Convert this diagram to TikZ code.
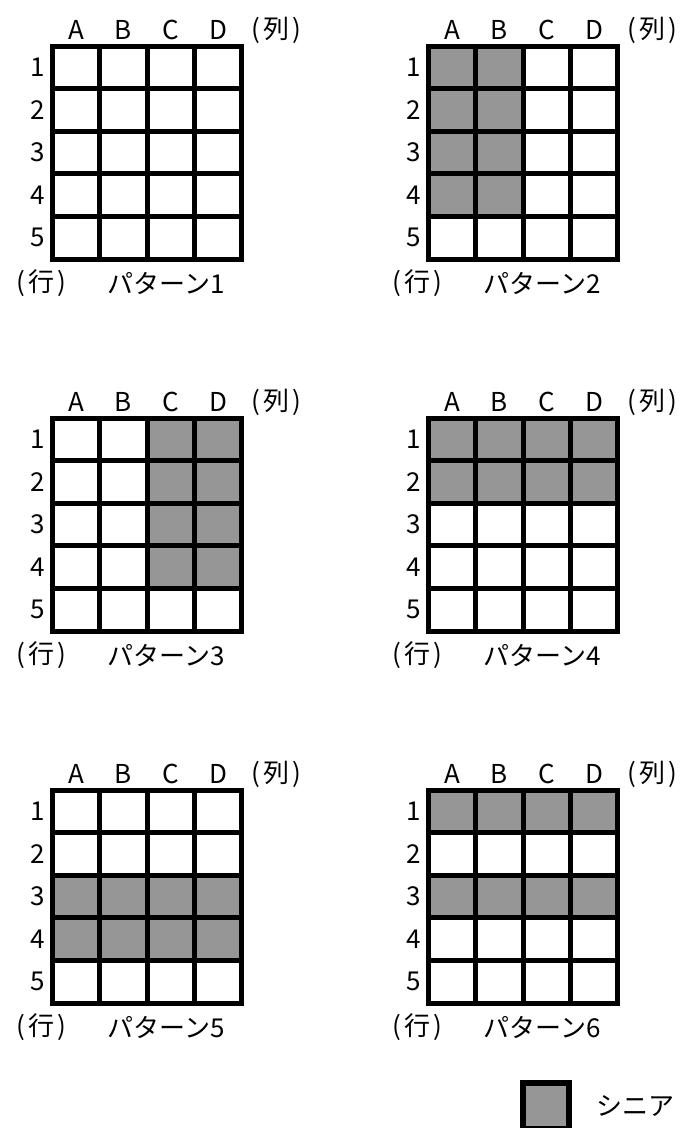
\documentclass[tikz,border=0pt]{standalone}
\usepackage{fontspec}
\setmainfont{Noto Sans CJK JP}
\usetikzlibrary{positioning}

\definecolor{senior_gray}{RGB}{150,150,150}

\begin{document}
\begin{tikzpicture}[
        x=1pt, y=-1pt,
        grid_line/.style={
            line width=5pt
        },
        senior_fill/.style={
            fill=senior_gray
        },
        label_text/.style={
            font=\fontsize{26}{26}\selectfont,
            inner sep=0pt
        },
        legend_box/.style={
            draw,
            fill=senior_gray,
            line width=6pt
        }
    ]
        \useasboundingbox (0,0) rectangle (683,1128);
        % gray cells (cell width 47.3, height 42.6)
        \foreach \c in {0,1} \foreach \r in {0,...,3}
            \fill[senior_fill] (428.5+\c*47.3, 46+\r*42.6) rectangle ++(47.3,42.6);
        \foreach \c in {2,3} \foreach \r in {0,...,3}
            \fill[senior_fill] (52.5+\c*47.3, 418+\r*42.6) rectangle ++(47.3,42.6);
        \foreach \c in {0,...,3} \foreach \r in {0,1}
            \fill[senior_fill] (428.5+\c*47.3, 418+\r*42.6) rectangle ++(47.3,42.6);
        \foreach \c in {0,...,3} \foreach \r in {2,3}
            \fill[senior_fill] (52.5+\c*47.3, 790+\r*42.6) rectangle ++(47.3,42.6);
        \foreach \c in {0,...,3} \foreach \r in {0,2}
            \fill[senior_fill] (428.5+\c*47.3, 790+\r*42.6) rectangle ++(47.3,42.6);
        % six grids with their labels
        \foreach \px/\py/\num in {52.5/46/1, 428.5/46/2, 52.5/418/3, 428.5/418/4, 52.5/790/5, 428.5/790/6} {
            \begin{scope}[shift={(\px,\py)}]
                \draw[grid_line] (0,0) rectangle (189.2,213);
                \foreach \i in {1,2,3}
                    \draw[grid_line] (\i*47.3,0) -- (\i*47.3,213);
                \foreach \j in {1,...,4}
                    \draw[grid_line] (0,\j*42.6) -- (189.2,\j*42.6);
                \foreach \lab [count=\i from 0] in {A,B,C,D}
                    \node[label_text] (col_\lab_\num) at (23.6+\i*47.3,-16) {\lab};
                \node[label_text] (col_head_\num) at (224,-16) {(\kern3pt列\kern3pt)};
                \foreach \r [count=\j from 0] in {1,...,5}
                    \node[label_text] (row_\r_\num) at (-15,21.3+\j*42.6) {\r};
                \node[label_text] (row_head_\num) at (-11,237) {(\kern3pt行\kern3pt)};
                \node[label_text] (title_\num) at (114,237) {パターン\num};
            \end{scope}
        }
        % legend
        \node[legend_box, minimum width=46pt, minimum height=46pt, inner sep=0pt] (legend_box) at (546,1106) {};
        \node[label_text, right=24pt of legend_box] (legend_text) {シニア};
    \end{tikzpicture}
\end{document}
